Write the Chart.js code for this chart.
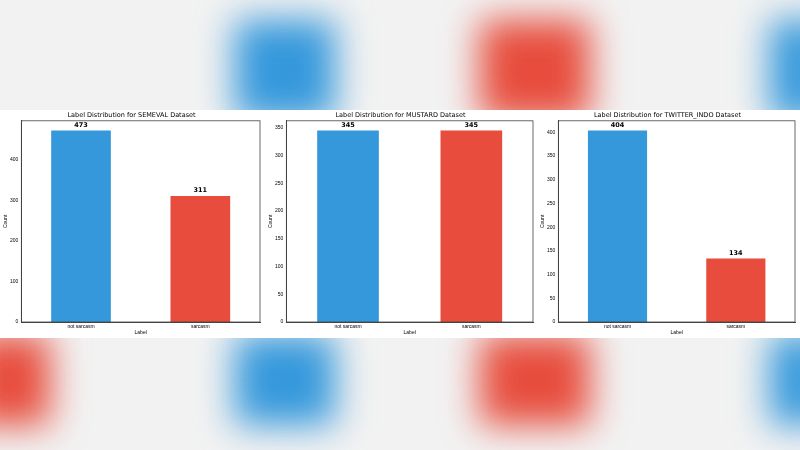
<!DOCTYPE html>
<html>
<head>
<meta charset="utf-8">
<script src="https://cdn.jsdelivr.net/npm/chart.js@4.4.2/dist/chart.umd.min.js"></script>
<style>
  body { margin: 0; width: 800px; height: 450px; overflow: hidden; background: #f2f2f2; position: relative; font-family: "DejaVu Sans", sans-serif; }
  .blob { position: absolute; filter: blur(18px); }
  #band { position: absolute; left: 0; top: 110px; width: 800px; height: 228px; background: #fff; }
  .panel { position: absolute; top: 0; height: 228px; }
</style>
</head>
<body>
<div class="blob" style="left:235px;top:20px;width:100px;height:100px;background:#3498db"></div>
<div class="blob" style="left:480px;top:20px;width:110px;height:100px;background:#e74c3c"></div>
<div class="blob" style="left:770px;top:20px;width:60px;height:100px;background:#3498db"></div>
<div class="blob" style="left:-30px;top:335px;width:80px;height:90px;background:#e74c3c"></div>
<div class="blob" style="left:235px;top:335px;width:100px;height:90px;background:#3498db"></div>
<div class="blob" style="left:480px;top:335px;width:110px;height:90px;background:#e74c3c"></div>
<div class="blob" style="left:770px;top:335px;width:60px;height:90px;background:#3498db"></div>
<div id="band">
  <div class="panel" style="left:0;width:266px"><canvas id="c1"></canvas></div>
  <div class="panel" style="left:266px;width:272px"><canvas id="c2"></canvas></div>
  <div class="panel" style="left:538px;width:262px"><canvas id="c3"></canvas></div>
</div>
<script>
const categories = ['not sarcasm', 'sarcasm'];
const datasetNames = ['SEMEVAL', 'MUSTARD', 'TWITTER_INDO'];
const semevalCounts = [473, 311];
const mustardCounts = [345, 345];
const twitterIndoCounts = [404, 134];
const barColors = ['#3498db', '#e74c3c'];

const valueLabels = {
  id: 'valueLabels',
  afterDatasetsDraw(chart) {
    const ctx = chart.ctx;
    const meta = chart.getDatasetMeta(0);
    ctx.save();
    ctx.font = 'bold 6.5px "DejaVu Sans"';
    ctx.fillStyle = '#000';
    ctx.textAlign = 'center';
    ctx.textBaseline = 'bottom';
    meta.data.forEach((bar, i) => {
      ctx.fillText(chart.data.datasets[0].data[i], bar.x, bar.y - 2);
    });
    // axes box
    const a = chart.chartArea;
    ctx.strokeStyle = '#444';
    ctx.lineWidth = 0.8;
    ctx.strokeRect(a.left, a.top, a.right - a.left, a.bottom - a.top);
    ctx.restore();
  }
};

function makeChart(id, name, counts, step, pad) {
  new Chart(document.getElementById(id), {
    type: 'bar',
    data: {
      labels: categories,
      datasets: [{ data: counts, backgroundColor: barColors, categoryPercentage: 1, barPercentage: 0.5 }]
    },
    options: {
      responsive: true,
      maintainAspectRatio: false,
      animation: false,
      layout: { padding: pad },
      plugins: {
        legend: { display: false },
        tooltip: { enabled: false },
        title: { display: true, text: `Label Distribution for ${name} Dataset`, color: '#000', font: { size: 6.5, family: 'DejaVu Sans', weight: 'normal' }, padding: { top: 1, bottom: 2 } }
      },
      scales: {
        x: {
          grid: { display: false, tickLength: 2 },
          border: { color: '#444' },
          ticks: { color: '#000', font: { size: 5 }, padding: 0 },
          title: { display: true, text: 'Label', color: '#000', font: { size: 5 }, padding: 0 }
        },
        y: {
          min: 0,
          max: Math.max(...counts) * 1.05,
          afterBuildTicks(axis) {
            const t = [];
            for (let v = 0; v <= axis.max; v += step) t.push({ value: v });
            axis.ticks = t;
          },
          grid: { display: false, tickLength: 2 },
          border: { color: '#444' },
          ticks: { color: '#000', font: { size: 5 }, padding: 1 },
          title: { display: true, text: 'Count', color: '#000', font: { size: 5 }, padding: 0 }
        }
      }
    },
    plugins: [valueLabels]
  });
}

makeChart('c1', datasetNames[0], semevalCounts, 100, { left: 3, right: 6, top: 0, bottom: 2 });
makeChart('c2', datasetNames[1], mustardCounts, 50, { left: 2, right: 5, top: 0, bottom: 2 });
makeChart('c3', datasetNames[2], twitterIndoCounts, 50, { left: 2, right: 5, top: 0, bottom: 2 });
</script>
</body>
</html>
